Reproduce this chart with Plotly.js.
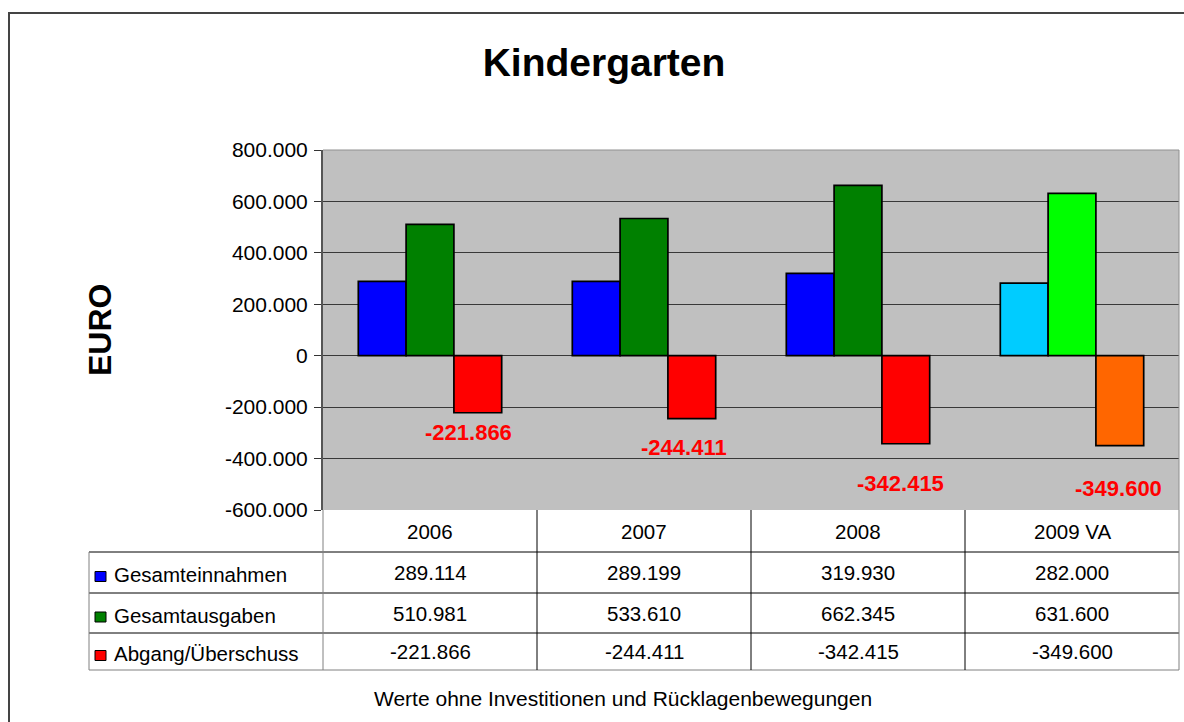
<!DOCTYPE html>
<html>
<head>
<meta charset="utf-8">
<script src="https://cdn.plot.ly/plotly-3.0.1.min.js"></script>
<style>
  html, body { margin: 0; padding: 0; background: #fff; }
  #chart { width: 1184px; height: 722px; }
</style>
</head>
<body>
<div id="chart"></div>
<script>
const years = ["2006", "2007", "2008", "2009 VA"];
const einnahmen = [289114, 289199, 319930, 282000];
const ausgaben = [510981, 533610, 662345, 631600];
const saldo = [-221866, -244411, -342415, -349600];
const seriesNames = ["Gesamteinnahmen", "Gesamtausgaben", "Abgang/Überschuss"];
const tickVals = [-600000, -400000, -200000, 0, 200000, 400000, 600000, 800000];

// colours per bar (2009 is the plan year, drawn lighter)
const colEin = ["#0000FF", "#0000FF", "#0000FF", "#00CCFF"];
const colAus = ["#008000", "#008000", "#008000", "#00FF00"];
const colSal = ["#FF0000", "#FF0000", "#FF0000", "#FF6600"];
const legendCols = ["#0000FF", "#008000", "#FF0000"];

// hand-placed data labels (pixel offsets from the bar end)
const labelDx = [38, 40, 42, 46];
const labelDy = [20, 29, 40, 43];

const FONT = "Liberation Sans, Arial, sans-serif";

function fmt(v) {
  const s = Math.abs(v).toString().replace(/\B(?=(\d{3})+(?!\d))/g, ".");
  return (v < 0 ? "-" : "") + s;
}

// plot area in pixels: x 323..1179, y 150..510
const PL = 323, PR = 1179, PT = 150, PB = 510;
const px = x => (x - PL) / (PR - PL);
const py = y => (PB - y) / (PB - PT);

const barLine = {color: "#000", width: 1.7};
const data = [
  {type: "bar", name: seriesNames[0], x: years, y: einnahmen,
   marker: {color: colEin, line: barLine}, hoverinfo: "y"},
  {type: "bar", name: seriesNames[1], x: years, y: ausgaben,
   marker: {color: colAus, line: barLine}, hoverinfo: "y"},
  {type: "bar", name: seriesNames[2], x: years, y: saldo,
   marker: {color: colSal, line: barLine}, hoverinfo: "y"}
];

const shapes = [];
const annotations = [];

function hline(y, x0, x1, color) {
  shapes.push({type: "line", xref: "paper", yref: "paper",
    x0: px(x0), x1: px(x1), y0: py(y), y1: py(y), line: {color: color, width: 1}});
}
function vline(x, y0, y1, color) {
  shapes.push({type: "line", xref: "paper", yref: "paper",
    x0: px(x), x1: px(x), y0: py(y0), y1: py(y1), line: {color: color, width: 1}});
}

// outer chart frame
shapes.push({type: "rect", xref: "paper", yref: "paper",
  x0: px(9), y0: py(13), x1: px(1260), y1: py(800), line: {color: "#444", width: 2}});
// plot area border (top/right)
hline(PT, PL, PR, "#909090");
vline(PR, PT, PB, "#909090");

// data table grid
const rowY = [PB, 552, 593, 633, 670];
const colX = [PL, 537, 751, 965, PR];
hline(552, 89, PR, "#000");
hline(593, 89, PR, "#000");
hline(633, 89, PR, "#000");
hline(670, 89, PR, "#808080");
vline(89, 552, 670, "#808080");
vline(PL, PB, 670, "#808080");
vline(537, PB, 670, "#000");
vline(751, PB, 670, "#000");
vline(965, PB, 670, "#000");
vline(PR, PB, 670, "#808080");

const tableFont = {family: FONT, size: 20.5, color: "#000"};
const rows = [einnahmen, ausgaben, saldo];

years.forEach((yr, i) => {
  const cx = (colX[i] + colX[i + 1]) / 2;
  annotations.push({xref: "paper", yref: "paper", x: px(cx), y: py((rowY[0] + rowY[1]) / 2),
    text: yr, showarrow: false, font: tableFont, xanchor: "center", yanchor: "middle"});
  rows.forEach((r, k) => {
    annotations.push({xref: "paper", yref: "paper", x: px(cx), y: py((rowY[k + 1] + rowY[k + 2]) / 2),
      text: fmt(r[i]), showarrow: false, font: tableFont, xanchor: "center", yanchor: "middle"});
  });
  // red data labels under the balance bars (x given as category index)
  annotations.push({xref: "x", yref: "y", x: i, y: saldo[i], xshift: labelDx[i], yshift: -labelDy[i],
    text: "<b>" + fmt(saldo[i]) + "</b>", showarrow: false,
    font: {family: FONT, size: 22, color: "#FF0000"}, xanchor: "center", yanchor: "middle"});
});

seriesNames.forEach((n, k) => {
  const cy = (rowY[k + 1] + rowY[k + 2]) / 2;
  shapes.push({type: "rect", xref: "paper", yref: "paper",
    x0: px(95), x1: px(106), y0: py(cy - 1), y1: py(cy + 10 - 1),
    fillcolor: legendCols[k], line: {color: "#000", width: 1}});
  annotations.push({xref: "paper", yref: "paper", x: px(112), y: py(cy + 2),
    text: n, showarrow: false, font: tableFont, xanchor: "left", yanchor: "middle"});
});

// y axis title and footnote
annotations.push({xref: "paper", yref: "paper", x: px(100), y: py(330),
  text: "<b>EURO</b>", textangle: -90, showarrow: false,
  font: {family: FONT, size: 32, color: "#000"}, xanchor: "center", yanchor: "middle"});
annotations.push({xref: "paper", yref: "paper", x: px(623), y: py(698),
  text: "Werte ohne Investitionen und Rücklagenbewegungen", showarrow: false,
  font: {family: FONT, size: 21, color: "#000"}, xanchor: "center", yanchor: "middle"});

const layout = {
  width: 1184, height: 722,
  margin: {l: PL, r: 1184 - PR, t: PT, b: 722 - PB, pad: 0},
  paper_bgcolor: "#fff",
  plot_bgcolor: "#C0C0C0",
  showlegend: false,
  barmode: "group",
  bargap: 0.33,
  bargroupgap: 0,
  title: {text: "<b>Kindergarten</b>", x: 604 / 1184, xref: "container", xanchor: "center",
    y: 1 - 62 / 722, yref: "container", yanchor: "middle",
    font: {family: FONT, size: 39, color: "#000"}},
  font: {family: FONT, color: "#000"},
  xaxis: {type: "category", range: [-0.5, years.length - 0.5], showticklabels: false, ticks: "",
    showgrid: false, zeroline: false, showline: false, fixedrange: true},
  yaxis: {range: [-600000, 800000], tickvals: tickVals, ticktext: tickVals.map(fmt),
    tickfont: {family: FONT, size: 21, color: "#000"},
    ticks: "outside", ticklen: 7, tickcolor: "#333", tickwidth: 1,
    showline: true, linecolor: "#555", linewidth: 2,
    showgrid: true, gridcolor: "#383838", gridwidth: 1,
    zeroline: true, zerolinecolor: "#383838", zerolinewidth: 1,
    ticklabelstandoff: 2, fixedrange: true},
  shapes: shapes,
  annotations: annotations
};

Plotly.newPlot("chart", data, layout, {displayModeBar: false, staticPlot: true});
</script>
</body>
</html>
